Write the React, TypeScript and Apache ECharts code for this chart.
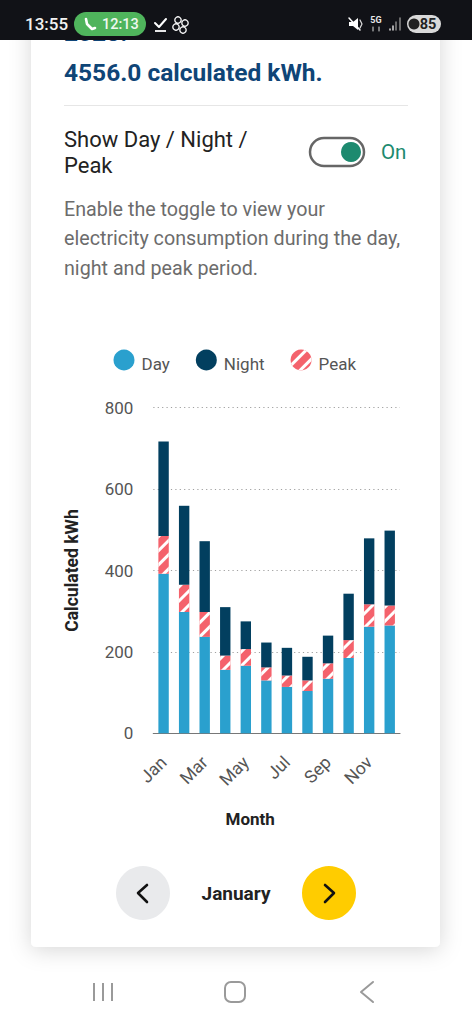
import React, { useEffect, useRef } from "react";
import * as echarts from "echarts";

const months = ["Jan", "Feb", "Mar", "Apr", "May", "Jun", "Jul", "Aug", "Sep", "Oct", "Nov", "Dec"];
const dayValues = [392, 298, 237, 156, 166, 130, 114, 104, 134, 185, 262, 265];
const peakValues = [93, 67, 61, 35, 41, 32, 28, 26, 38, 44, 55, 49];
const nightValues = [232, 194, 174, 119, 68, 61, 68, 58, 68, 114, 162, 184];
const yTicks = { min: 0, max: 800, interval: 200 };

const FONT = "Roboto, sans-serif";
const DAY = "#2AA0CE";
const NIGHT = "#023F5F";
const PEAK = "#F4626C";

const txt = (text: string, x: number, y: number, size: number, fill: string, weight = 400, align = "left", extra: any = {}) => ({
  type: "text",
  z: extra.z ?? -1,
  style: { text, x, y, fill, font: `${weight} ${size}px ${FONT}`, align, verticalAlign: "middle", ...extra.style },
});
const poly = (points: number[][], stroke: string, lineWidth: number, z = -1) => ({
  type: "polyline",
  z,
  shape: { points },
  style: { stroke, lineWidth, fill: "none", lineCap: "round", lineJoin: "round" },
});

const background: any[] = [
  { type: "rect", z: -5, shape: { x: 31, y: 0, width: 409, height: 947, r: 5 }, style: { fill: "#fff", shadowBlur: 22, shadowColor: "rgba(0,0,0,0.16)", shadowOffsetY: 3 } },
  txt("2023.", 64, 32, 24.5, "#0F4577", 700),
  txt("4556.0 calculated kWh.", 64, 72, 24.5, "#0F4577", 700),
  { type: "line", z: -1, shape: { x1: 64, y1: 105.5, x2: 408, y2: 105.5 }, style: { stroke: "#E6E6E6", lineWidth: 1 } },
  txt("Show Day / Night /", 64, 139, 22, "#222", 400),
  txt("Peak", 64, 165, 22, "#222", 400),
  { type: "rect", z: -1, shape: { x: 310, y: 138, width: 54, height: 28, r: 14 }, style: { fill: "#fff", stroke: "#666", lineWidth: 2.5 } },
  { type: "circle", z: -1, shape: { cx: 351, cy: 152, r: 10 }, style: { fill: "#1D8A6F" } },
  txt("On", 381, 152, 20.5, "#1D8A6F", 400),
  txt("Enable the toggle to view your", 64, 209, 19.7, "#6C6C6C", 400),
  txt("electricity consumption during the day,", 64, 238, 19.7, "#6C6C6C", 400),
  txt("night and peak period.", 64, 268, 19.7, "#6C6C6C", 400),
  { type: "circle", z: -1, shape: { cx: 143, cy: 893, r: 27 }, style: { fill: "#E9EAEC" } },
  { type: "circle", z: -1, shape: { cx: 329, cy: 893, r: 27 }, style: { fill: "#FFCC00" } },
  poly([[147, 885], [138, 893], [147, 902]], "#111", 2.6),
  poly([[325, 885], [334, 893], [325, 902]], "#111", 2.6),
  txt("January", 236, 893, 19, "#222", 700, "center"),
  { type: "line", z: -1, shape: { x1: 94, y1: 983, x2: 94, y2: 1001 }, style: { stroke: "#9A9A9A", lineWidth: 2 } },
  { type: "line", z: -1, shape: { x1: 103, y1: 983, x2: 103, y2: 1001 }, style: { stroke: "#9A9A9A", lineWidth: 2 } },
  { type: "line", z: -1, shape: { x1: 112, y1: 983, x2: 112, y2: 1001 }, style: { stroke: "#9A9A9A", lineWidth: 2 } },
  { type: "rect", z: -1, shape: { x: 225, y: 982, width: 20, height: 20, r: 6 }, style: { fill: "none", stroke: "#9A9A9A", lineWidth: 2 } },
  poly([[373, 982], [361, 992], [373, 1002]], "#9A9A9A", 2),
];

const statusBar: any[] = [
  { type: "rect", z: 20, shape: { x: 0, y: 0, width: 472, height: 40 }, style: { fill: "#111217" } },
  txt("13:55", 25, 24, 17, "#F2F2F2", 500, "left", { z: 21 }),
  { type: "rect", z: 21, shape: { x: 74, y: 12, width: 72, height: 24, r: 12 }, style: { fill: "#4FB45C" } },
  poly([[86, 19], [87, 24], [92, 29], [95, 28]], "#fff", 2.6, 22),
  txt("12:13", 102, 24, 14.5, "#EFF8EF", 500, "left", { z: 22 }),
  poly([[155, 23], [159, 27], [166, 19]], "#fff", 2, 22),
  { type: "line", z: 22, shape: { x1: 155, y1: 31, x2: 166, y2: 31 }, style: { stroke: "#fff", lineWidth: 1.8 } },
  ...[[178, 20], [185, 23], [176, 27], [183, 30]].map(([cx, cy]) => ({ type: "circle", z: 22, shape: { cx, cy, r: 3.2 }, style: { fill: "none", stroke: "#fff", lineWidth: 1.3 } })),
  { type: "polygon", z: 22, shape: { points: [[349, 22], [353, 22], [358, 18], [358, 30], [353, 26], [349, 26]] }, style: { fill: "#fff" } },
  poly([[349, 18], [360, 30]], "#fff", 1.5, 23),
  poly([[360, 20], [362, 24], [360, 28]], "#ddd", 1.2, 22),
  txt("5G", 376, 20, 9, "#E8E8E8", 700, "center", { z: 22 }),
  poly([[373, 27], [373, 31]], "#ddd", 1, 22),
  poly([[379, 27], [379, 31]], "#ddd", 1, 22),
  poly([[390, 29], [390, 30]], "#ddd", 1.5, 22),
  poly([[393, 26], [393, 30]], "#ddd", 1.5, 22),
  poly([[396, 22], [396, 30]], "#888", 1.5, 22),
  poly([[400, 18], [400, 30]], "#888", 1.5, 22),
  { type: "rect", z: 21, shape: { x: 407, y: 15, width: 34, height: 18, r: 9 }, style: { fill: "#D9D9D9" } },
  { type: "circle", z: 22, shape: { cx: 414, cy: 24, r: 5.5 }, style: { fill: "#222" } },
  txt("85", 428, 24.5, 14.5, "#222", 700, "center", { z: 22 }),
];

export default function App() {
  const ref = useRef<HTMLDivElement>(null);
  useEffect(() => {
    const chart = echarts.init(ref.current!, null, { renderer: "svg" });
    chart.setOption({
      animation: false,
      backgroundColor: "#fff",
      textStyle: { fontFamily: FONT },
      graphic: { elements: [...background, ...statusBar] },
      legend: {
        data: ["Day", "Night", "Peak"],
        left: 108.5,
        top: 344.5,
        icon: "circle",
        itemWidth: 21,
        itemHeight: 21,
        itemGap: 26,
        formatter: "{a|{name}}",
        textStyle: {
          fontFamily: FONT,
          fontSize: 17,
          color: "#555",
          rich: { a: { fontFamily: FONT, fontSize: 17, color: "#555", padding: [7, 0, 0, 2] } },
        },
      },
      grid: { left: 153.3, right: 72, top: 407.7, bottom: 290.7, containLabel: false },
      xAxis: {
        type: "category",
        data: months,
        name: "Month",
        nameLocation: "middle",
        nameGap: 77,
        nameTextStyle: { fontFamily: FONT, fontSize: 17, fontWeight: 700, color: "#222", padding: [0, 53, 0, 0] },
        axisLine: { lineStyle: { color: "#777", width: 1.2 } },
        axisTick: { show: false },
        axisLabel: { interval: 1, rotate: 45, margin: 26, fontFamily: FONT, fontSize: 17.5, color: "#555" },
      },
      yAxis: {
        type: "value",
        min: yTicks.min,
        max: yTicks.max,
        interval: yTicks.interval,
        name: "Calculated kWh",
        nameLocation: "middle",
        nameGap: 72,
        nameTextStyle: { fontFamily: FONT, fontSize: 17.5, fontWeight: 700, color: "#222" },
        axisLine: { show: false },
        axisTick: { show: false },
        axisLabel: { margin: 20, fontFamily: FONT, fontSize: 17, color: "#555" },
        splitLine: { lineStyle: { color: "#A0A0A0", width: 1.2, type: [1.2, 3.2] } },
      },
      series: [
        { name: "Day", type: "bar", stack: "kwh", barWidth: 10.4, data: dayValues, itemStyle: { color: DAY } },
        {
          name: "Peak",
          type: "bar",
          stack: "kwh",
          barWidth: 10.4,
          data: peakValues,
          itemStyle: {
            color: PEAK,
            decal: { symbol: "rect", symbolSize: 1, color: "#fff", dashArrayX: [1, 0], dashArrayY: [2.5, 7], rotation: -Math.PI / 4 },
          },
        },
        { name: "Night", type: "bar", stack: "kwh", barWidth: 10.4, data: nightValues, itemStyle: { color: NIGHT } },
      ],
    });
    return () => chart.dispose();
  }, []);
  return <div ref={ref} style={{ position: "fixed", left: 0, top: 0, width: 472, height: 1024 }} />;
}
